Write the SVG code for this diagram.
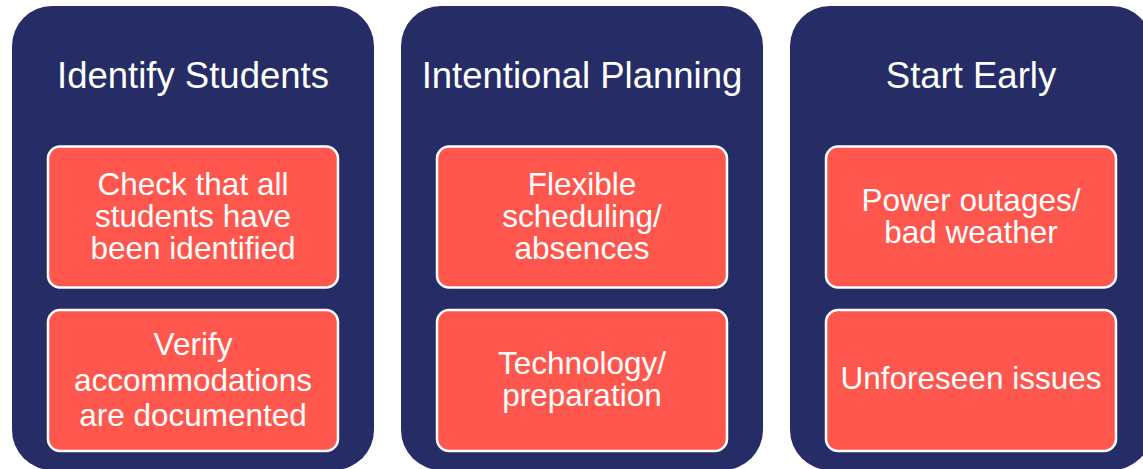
<svg xmlns="http://www.w3.org/2000/svg" width="1143" height="469" viewBox="0 0 1143 469">
<style>
.panel{fill:#262D66}
.box{fill:#FF574E;stroke:#FFFFFF;stroke-width:2.5}
.title{font-family:"Liberation Sans",Arial,sans-serif;font-size:36.5px;fill:#FFFFFF;text-anchor:middle}
.txt{font-family:"Liberation Sans",Arial,sans-serif;font-size:31.5px;fill:#FFFFFF;text-anchor:middle}
</style>
<rect width="1143" height="469" fill="#FFFFFF"/>
<g id="col1">
<rect class="panel" x="12" y="6" width="362" height="464" rx="40"/>
<text class="title" x="193" y="88">Identify Students</text>
</g>
<g id="col1-box1">
<rect class="box" x="48" y="146.5" width="290" height="141" rx="12"/>
<text class="txt" x="193" y="195">Check that all</text>
<text class="txt" x="193" y="227">students have</text>
<text class="txt" x="193" y="259">been identified</text>
</g>
<g id="col1-box2">
<rect class="box" x="48" y="310" width="290" height="141" rx="12"/>
<text class="txt" x="193" y="355">Verify</text>
<text class="txt" x="193" y="391">accommodations</text>
<text class="txt" x="193" y="426">are documented</text>
</g>
<g id="col2">
<rect class="panel" x="401" y="6" width="362" height="464" rx="40"/>
<text class="title" x="582" y="88">Intentional Planning</text>
</g>
<g id="col2-box1">
<rect class="box" x="437" y="146.5" width="290" height="141" rx="12"/>
<text class="txt" x="582" y="195">Flexible</text>
<text class="txt" x="582" y="227">scheduling/</text>
<text class="txt" x="582" y="259">absences</text>
</g>
<g id="col2-box2">
<rect class="box" x="437" y="310" width="290" height="141" rx="12"/>
<text class="txt" x="582" y="374">Technology/</text>
<text class="txt" x="582" y="406">preparation</text>
</g>
<g id="col3">
<rect class="panel" x="790" y="6" width="362" height="464" rx="40"/>
<text class="title" x="971" y="88">Start Early</text>
</g>
<g id="col3-box1">
<rect class="box" x="826" y="146.5" width="290" height="141" rx="12"/>
<text class="txt" x="971" y="211">Power outages/</text>
<text class="txt" x="971" y="243">bad weather</text>
</g>
<g id="col3-box2">
<rect class="box" x="826" y="310" width="290" height="141" rx="12"/>
<text class="txt" x="971" y="389">Unforeseen issues</text>
</g>
<g id="connectors"></g>
</svg>
